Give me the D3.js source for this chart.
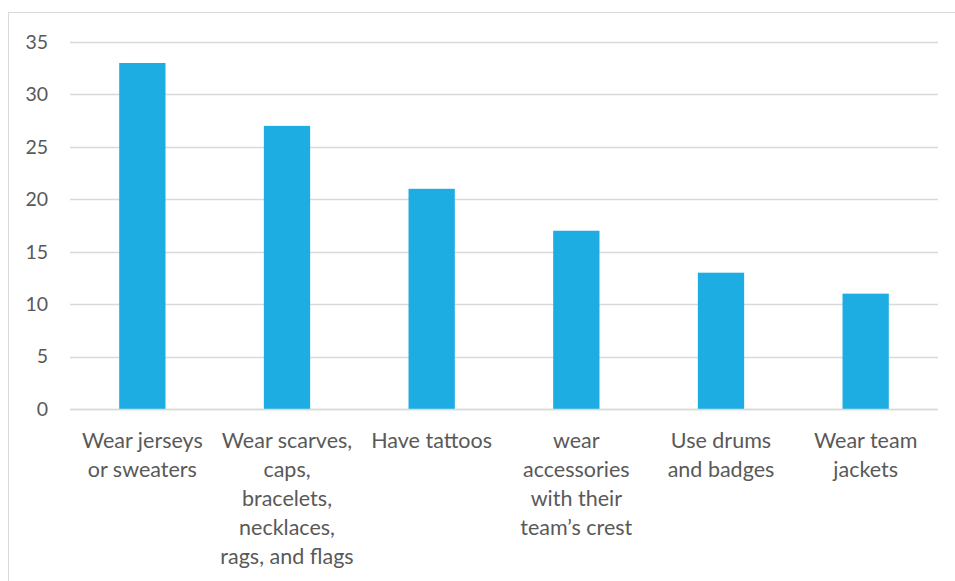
<!DOCTYPE html>
<html><head><meta charset="utf-8">
<script src="https://cdn.jsdelivr.net/npm/d3@7"></script>
<style>body{margin:0;background:#fff}svg{display:block}</style>
</head><body>
<script>
const categories = ["Wear jerseys\nor sweaters","Wear scarves,\ncaps,\nbracelets,\nnecklaces,\nrags, and flags","Have tattoos","wear\naccessories\nwith their\nteam\u2019s crest","Use drums\nand badges","Wear team\njackets"];
const values = [33,27,21,17,13,11];
const yTicks = [0,5,10,15,20,25,30,35];

const W=955,H=581;
const svg=d3.select("body").append("svg").attr("width",W).attr("height",H);
svg.append("rect").attr("x",8.5).attr("y",12.5).attr("width",W).attr("height",H).attr("fill","#fff").attr("stroke","#d9d9d9").attr("stroke-width",1);

const pLeft=70,pRight=938,pTop=42,pBottom=409;
const x=d3.scaleBand().domain(categories).range([pLeft,pRight]).paddingInner(0.68).paddingOuter(0.34);
const y=d3.scaleLinear().domain([0,35]).range([pBottom,pTop]);

const font="Lato, 'Open Sans', sans-serif";
svg.append("g").selectAll("line").data(yTicks).join("line")
 .attr("x1",pLeft).attr("x2",pRight).attr("y1",d=>Math.round(y(d))+0.5).attr("y2",d=>Math.round(y(d))+0.5)
 .attr("stroke","#d9d9d9").attr("stroke-width",1.5);

svg.append("g").selectAll("text").data(yTicks).join("text")
 .attr("x",48).attr("y",d=>y(d)).attr("dy","0.35em").attr("text-anchor","end")
 .attr("font-family",font).attr("font-size",19.5).attr("fill","#595959").text(d=>d);

svg.append("g").selectAll("rect").data(values).join("rect")
 .attr("x",(d,i)=>x(categories[i])).attr("width",x.bandwidth())
 .attr("y",d=>y(d)).attr("height",d=>y(0)-y(d)).attr("fill","#1eade3");

svg.append("line").attr("x1",pLeft).attr("x2",pRight).attr("y1",Math.round(y(0))+0.5).attr("y2",Math.round(y(0))+0.5).attr("stroke","#d9d9d9").attr("stroke-width",1.5);

const lab=svg.append("g").selectAll("text").data(categories).join("text")
 .attr("x",d=>x(d)+x.bandwidth()/2).attr("y",448).attr("text-anchor","middle")
 .attr("font-family",font).attr("font-size",21.5).attr("fill","#595959");
lab.each(function(d){
  const t=d3.select(this);
  d.split("\n").forEach((s,i)=>t.append("tspan").attr("x",x(d)+x.bandwidth()/2).attr("dy",i?29:0).text(s));
});
</script>
</body></html>
